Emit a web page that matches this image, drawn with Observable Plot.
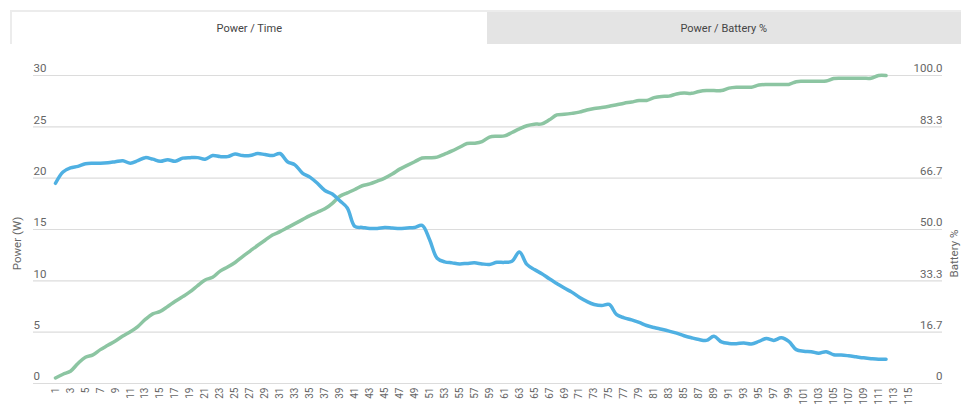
<!DOCTYPE html>
<html>
<head>
<meta charset="utf-8">
<script src="https://cdn.jsdelivr.net/npm/d3@7"></script>
<script src="https://cdn.jsdelivr.net/npm/@observablehq/plot@0.6"></script>
<style>
  html, body { margin: 0; padding: 0; background: #fff; }
  body { width: 961px; height: 404px; overflow: hidden; font-family: Roboto, "Noto Sans", sans-serif; }
  .tabs { position: absolute; left: 10px; top: 10px; width: 951px; height: 34px; box-sizing: border-box;
          border-top: 2px solid #ececec; border-left: 2px solid #ececec; display: flex; }
  .tab { flex: 1 1 50%; display: flex; align-items: center; justify-content: center; font-size: 11px; color: #444; }
  .tab.active { background: #fff; }
  .tab.inactive { background: #e4e4e4; }
  #chart { position: absolute; left: 0; top: 44px; }
</style>
</head>
<body>
<div class="tabs">
  <div class="tab active">Power / Time</div>
  <div class="tab inactive">Power / Battery %</div>
</div>
<div id="chart"></div>
<script>
const tabLabels = ["Power / Time", "Power / Battery %"];
const xTickLabels = [1,3,5,7,9,11,13,15,17,19,21,23,25,27,29,31,33,35,37,39,41,43,45,47,49,51,53,55,57,59,61,63,65,67,69,71,73,75,77,79,81,83,85,87,89,91,93,95,97,99,101,103,105,107,109,111,113,115];
const powerTicks = [0, 5, 10, 15, 20, 25, 30];
const batteryTickLabels = ["0", "16.7", "33.3", "50.0", "66.7", "83.3", "100.0"];
const batteryMax = 100;
const powerMax = 30;

// Power (W), samples 1..112
const powerValues = [
  19.5, 20.6, 21.0, 21.15, 21.4, 21.45, 21.45, 21.5, 21.6, 21.7,
  21.45, 21.7, 22.0, 21.85, 21.65, 21.8, 21.65, 21.95, 22.0, 22.0,
  21.85, 22.2, 22.1, 22.1, 22.35, 22.2, 22.2, 22.4, 22.3, 22.2,
  22.4, 21.6, 21.3, 20.5, 20.1, 19.5, 18.8, 18.45, 17.8, 17.1,
  15.3, 15.2, 15.1, 15.1, 15.2, 15.15, 15.1, 15.15, 15.2, 15.4,
  14.0, 12.2, 11.85, 11.75, 11.65, 11.7, 11.75, 11.65, 11.6, 11.8,
  11.8, 11.9, 12.8, 11.6, 11.1, 10.7, 10.2, 9.75, 9.3, 8.9,
  8.4, 8.0, 7.7, 7.6, 7.7, 6.7, 6.4, 6.2, 5.95, 5.65,
  5.45, 5.28, 5.1, 4.9, 4.65, 4.45, 4.28, 4.2, 4.6, 4.05,
  3.9, 3.88, 3.95, 3.85, 4.1, 4.38, 4.2, 4.45, 4.1, 3.3,
  3.15, 3.1, 2.95, 3.1, 2.8, 2.78, 2.7, 2.6, 2.5, 2.42,
  2.36, 2.36
];

// Battery %, samples 1..112
const batteryValues = [
  1.8, 3.0, 4.0, 6.5, 8.5, 9.3, 11.0, 12.4, 13.8, 15.4,
  16.8, 18.5, 20.8, 22.6, 23.4, 25.0, 26.7, 28.2, 29.8, 31.8,
  33.6, 34.5, 36.5, 37.8, 39.3, 41.2, 43.0, 44.8, 46.5, 48.2,
  49.3, 50.6, 51.9, 53.2, 54.5, 55.6, 56.7, 58.5, 60.8, 61.9,
  63.0, 64.2, 64.8, 65.7, 66.7, 68.0, 69.6, 70.8, 72.0, 73.2,
  73.3, 73.5, 74.5, 75.5, 76.7, 77.9, 78.0, 78.5, 80.0, 80.3,
  80.4, 81.5, 82.7, 83.7, 84.2, 84.3, 85.6, 87.2, 87.4, 87.7,
  88.1, 88.8, 89.3, 89.6, 90.0, 90.5, 91.0, 91.4, 91.9, 91.9,
  92.8, 93.2, 93.3, 94.0, 94.3, 94.2, 94.8, 95.1, 95.1, 95.1,
  95.9, 96.2, 96.2, 96.2, 96.9, 97.1, 97.1, 97.1, 97.1, 98.0,
  98.1, 98.1, 98.1, 98.2, 99.0, 99.1, 99.1, 99.1, 99.1, 99.1,
  100.0, 100.0
];

const samples = d3.range(1, powerValues.length + 1);
const powerData = samples.map((t, i) => ({t, v: powerValues[i]}));
const batteryData = samples.map((t, i) => ({t, v: batteryValues[i] * powerMax / batteryMax}));

const blue = "#4fb0e2";
const green = "#8cc5a2";
const tickColor = "#666";

const chart = Plot.plot({
  width: 961,
  height: 360,
  marginTop: 31,
  marginBottom: 21,
  marginLeft: 33,
  marginRight: 19,
  style: {fontFamily: "Roboto, 'Noto Sans', sans-serif", background: "transparent", overflow: "visible"},
  x: {domain: [1, 115], insetLeft: 22, insetRight: 34},
  y: {domain: [0, powerMax]},
  marks: [
    Plot.gridY(powerTicks, {stroke: "#dcdcdc", strokeOpacity: 1, strokeWidth: 1.2}),
    Plot.axisY(powerTicks, {anchor: "left", tickSize: 0, tickPadding: 0, textAnchor: "start", dy: -7, fontSize: 11.5, fill: tickColor, label: null}),
    Plot.axisY(powerTicks, {anchor: "right", tickSize: 0, tickPadding: 0, textAnchor: "end", dy: -7, fontSize: 11.5, fill: tickColor, label: null,
      tickFormat: d => batteryTickLabels[powerTicks.indexOf(d)]}),
    Plot.axisX(xTickLabels, {anchor: "bottom", tickSize: 0, tickPadding: 4, tickRotate: -90, fontSize: 10, fill: tickColor, label: null}),
    Plot.text(["Power (W)"], {frameAnchor: "left", textAnchor: "middle", rotate: -90, dx: -16, dy: 14, fontSize: 11.5, fill: tickColor}),
    Plot.text(["Battery %"], {frameAnchor: "right", textAnchor: "middle", rotate: -90, dx: 12, dy: 24, fontSize: 11.5, fill: tickColor}),
    Plot.line(batteryData, {x: "t", y: "v", stroke: green, strokeWidth: 3.5, curve: "catmull-rom"}),
    Plot.line(powerData, {x: "t", y: "v", stroke: blue, strokeWidth: 3.5, curve: "catmull-rom"})
  ]
});
document.getElementById("chart").appendChild(chart);
</script>
</body>
</html>
